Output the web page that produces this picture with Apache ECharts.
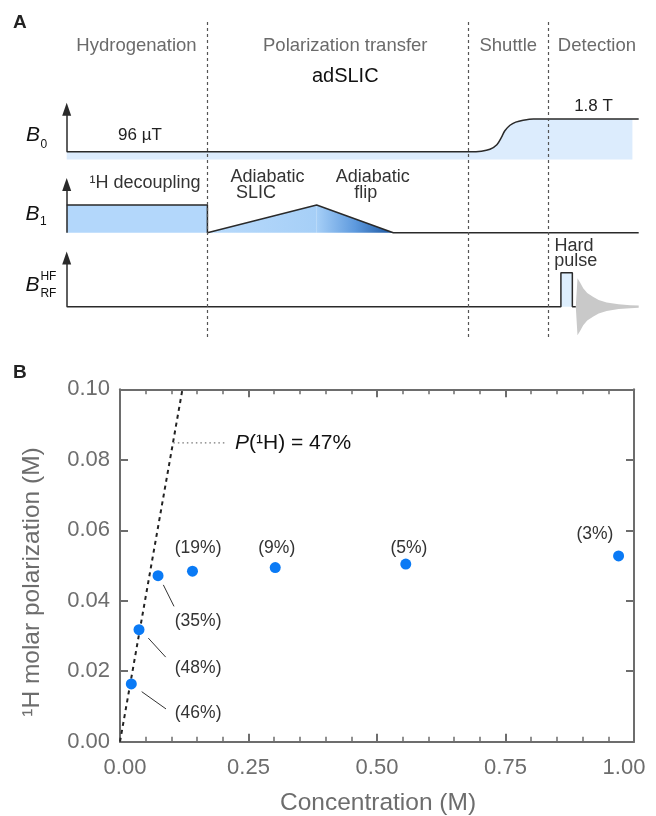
<!DOCTYPE html>
<html>
<head>
<meta charset="utf-8">
<title>adSLIC</title>
<script src="https://cdn.jsdelivr.net/npm/echarts@6/dist/echarts.min.js"></script>
<style>
  html, body { margin: 0; padding: 0; background: #fff; }
  #main { width: 656px; height: 816px; }
</style>
</head>
<body>
<div id="main"></div>
<script>
// ---- panel B data ----
var concentration = [0.022, 0.037, 0.074, 0.141, 0.302, 0.556, 0.970];
var polarization  = [0.0164, 0.0318, 0.0471, 0.0484, 0.0494, 0.0504, 0.0527];
var percentLabels = ['(46%)', '(48%)', '(35%)', '(19%)', '(9%)', '(5%)', '(3%)'];
var xTicks = [0, 0.25, 0.5, 0.75, 1.0];
var yTicks = [0, 0.02, 0.04, 0.06, 0.08, 0.10];
var fitLine = [[0, 0], [0.1215, 0.1]];
var fitText = '(\u00b9H) = 47%';

// ---- panel A (schematic): time 0..100, level 0..100 ----
var phaseNames = ['Hydrogenation', 'Polarization transfer', 'Shuttle', 'Detection'];
var phaseEdges = [24.6, 70.2, 84.1];
var b0Trace = [[0, 58.8], [70.5, 58.8], [72.5, 59.0], [74.0, 59.6], [75.2, 61.0], [76.0, 63.3],
               [76.6, 65.4], [77.5, 67.1], [78.5, 68.1], [79.8, 68.7], [81.6, 69.1], [100, 69.1]];
var b1Trace = [[0, 42.2], [24.6, 42.2], [24.6, 33.5], [43.7, 42.2], [57.1, 33.5], [100, 33.5]];
var rfTrace = [[0, 10.4], [86.4, 10.4], [86.4, 21.0], [88.4, 21.0], [88.4, 10.4], [89.0, 10.4]];
var fidEnvelope = [[89.0, 0], [89.3, 8.9], [89.8, 7.4], [90.3, 5.8], [91.0, 4.3], [92.0, 3.1],
                   [93.0, 2.1], [94.4, 1.3], [96.5, 0.75], [98.5, 0.45], [100, 0.35]];

var F = '"Liberation Sans", Arial, Helvetica, sans-serif';
var AX = '#6d6d6d';
var INK = '#2a2a2a';

// layout of texts (not data)
var phaseLabelAt = [[12.2, 91.9], [48.7, 91.9], [77.2, 91.9], [92.7, 91.9]];
var percentLabelAt = [[0.152, 0.0081], [0.152, 0.0210], [0.152, 0.0341], [0.152, 0.0549],
                      [0.305, 0.0549], [0.562, 0.0549], [0.924, 0.0590]];
var leaderLines = [
  [[0.0422, 0.0142], [0.0895, 0.0093]],
  [[0.0551, 0.0294], [0.0889, 0.0240]],
  [[0.0843, 0.0445], [0.1051, 0.0384]]
];
var fitLeader = [[0.1038, 0.0848], [0.2043, 0.0848]];
var fitTextAt = [0.2237, 0.0848];

var myChart = echarts.init(document.getElementById('main'));

function polySeries(pts, fill, xi, yi) {
  return {
    type: 'custom', xAxisIndex: xi, yAxisIndex: yi, silent: true, clip: false, z: 1,
    data: [[pts[0][0], pts[0][1]]],
    renderItem: function (params, api) {
      return {
        type: 'polygon',
        shape: { points: pts.map(function (p) { return api.coord(p); }) },
        style: { fill: fill }
      };
    }
  };
}

function textSeries(items, xi, yi) {
  return {
    type: 'custom', xAxisIndex: xi, yAxisIndex: yi, silent: true, clip: false, z: 5,
    data: items.map(function (d) { return d.at; }),
    renderItem: function (params, api) {
      var it = items[params.dataIndex];
      var p = api.coord(it.at);
      var st = {
        text: it.text, fill: it.color || '#333',
        fontSize: it.size || 18, fontFamily: F,
        fontStyle: it.italic ? 'italic' : 'normal',
        align: it.align || 'center', verticalAlign: 'middle'
      };
      if (it.rich) st.rich = it.rich;
      return { type: 'text', x: p[0], y: p[1], style: st };
    }
  };
}

function segSeries(segs, color, width, dash, xi, yi) {
  return {
    type: 'custom', xAxisIndex: xi, yAxisIndex: yi, silent: true, clip: false, z: 3,
    data: segs.map(function (s) { return s[0]; }),
    renderItem: function (params, api) {
      var s = segs[params.dataIndex];
      var a = api.coord(s[0]), b = api.coord(s[1]);
      return {
        type: 'line',
        shape: { x1: a[0], y1: a[1], x2: b[0], y2: b[1] },
        style: { stroke: color, lineWidth: width, lineDash: dash || null }
      };
    }
  };
}

// panel A fills
var b0Fill = b0Trace.slice(0, -1).concat([[98.9, 69.1], [98.9, 56.4], [0, 56.4]]);
var decoupleFill = [[0, 33.5], [0, 42.2], [24.6, 42.2], [24.6, 33.5]];
var slicFill = [[24.6, 33.5], [43.7, 42.2], [43.7, 33.5]];
var flipFill = [[43.7, 42.2], [57.1, 33.5], [43.7, 33.5]];
var pulseFill = [[86.4, 10.4], [86.4, 21.0], [88.4, 21.0], [88.4, 10.4]];
var fidFill = fidEnvelope.map(function (p) { return [p[0], 10.4 + p[1]]; })
  .concat(fidEnvelope.slice().reverse().map(function (p) { return [p[0], 10.4 - p[1]]; }));

var panelAText = phaseNames.map(function (n, i) {
  return { at: phaseLabelAt[i], text: n, size: 18.5, color: '#6b6b6b' };
}).concat([
  { at: [48.7, 82.3], text: 'adSLIC', size: 20, color: '#111' },
  { at: [12.8, 63.9], text: '96 \u00b5T', size: 17, color: '#222' },
  { at: [92.1, 72.9], text: '1.8 T', size: 17, color: '#222' },
  { at: [13.7, 49.0], text: '\u00b9H decoupling', size: 18, color: '#333' },
  { at: [35.1, 51.0], text: 'Adiabatic', size: 18, color: '#333' },
  { at: [33.1, 45.8], text: 'SLIC', size: 18, color: '#333' },
  { at: [53.5, 51.0], text: 'Adiabatic', size: 18, color: '#333' },
  { at: [52.3, 45.8], text: 'flip', size: 18, color: '#333' },
  { at: [88.7, 29.4], text: 'Hard', size: 18, color: '#333' },
  { at: [89.0, 24.8], text: 'pulse', size: 18, color: '#333' },
  { at: [-5.9, 63.9], text: 'B', size: 21, italic: true, color: '#111' },
  { at: [-4.0, 60.9], text: '0', size: 12, color: '#111' },
  { at: [-6.0, 39.3], text: 'B', size: 21, italic: true, color: '#111' },
  { at: [-4.1, 37.0], text: '1', size: 12, color: '#111' },
  { at: [-6.0, 17.2], text: 'B', size: 21, italic: true, color: '#111' },
  { at: [-3.2, 19.7], text: 'HF', size: 12, color: '#111' },
  { at: [-3.2, 14.4], text: 'RF', size: 12, color: '#111' }
]);

var panelBText = percentLabels.map(function (t, i) {
  return { at: percentLabelAt[i], text: t, size: 17.5, color: '#333' };
}).concat([{
  at: fitTextAt, text: '{i|P}{n|' + fitText + '}', align: 'left', size: 21, color: '#111',
  rich: {
    i: { fontStyle: 'italic', fontSize: 21, fontFamily: F, fill: '#111' },
    n: { fontSize: 21, fontFamily: F, fill: '#111' }
  }
}]);

function xAxisB(pos, labels) {
  return {
    type: 'value', gridIndex: 0, position: pos, min: 0, max: 1, interval: 0.25,
    axisLine: { show: true, onZero: false, lineStyle: { color: AX, width: 2 } },
    axisTick: { show: true, inside: true, length: 8, lineStyle: { color: AX, width: 2 } },
    minorTick: { show: true, splitNumber: 5, length: 5, lineStyle: { color: AX, width: 1.5 } },
    splitLine: { show: false }, minorSplitLine: { show: false },
    axisLabel: labels ? {
      show: true, margin: 15, fontSize: 22, color: AX, fontFamily: F,
      formatter: function (v) {
        var s = v.toFixed(2);
        if (v === 0) return '{l|' + s + '}';
        if (v === 1) return '{r|' + s + '}';
        return s;
      },
      rich: {
        l: { fontSize: 22, color: AX, fontFamily: F, padding: [0, 0, 0, 10] },
        r: { fontSize: 22, color: AX, fontFamily: F, padding: [0, 20, 0, 0] }
      }
    } : { show: false }
  };
}
function yAxisB(pos, labels) {
  return {
    type: 'value', gridIndex: 0, position: pos, min: 0, max: 0.1, interval: 0.02,
    axisLine: { show: true, onZero: false, lineStyle: { color: AX, width: 2 } },
    axisTick: { show: true, inside: true, length: 8, lineStyle: { color: AX, width: 2 } },
    splitLine: { show: false },
    axisLabel: labels ? {
      show: true, margin: 10, fontSize: 22, color: AX, fontFamily: F,
      formatter: function (v) { return v.toFixed(2); }
    } : { show: false }
  };
}
function hiddenAxis(gi) {
  return { type: 'value', gridIndex: gi, min: 0, max: 100, show: false };
}

var option = {
  animation: false,
  backgroundColor: '#fff',
  grid: [
    { left: 120, right: 22, top: 389.3, bottom: 74.3, containLabel: false },
    { left: 66.7, right: 17.3, top: 20, height: 320, containLabel: false }
  ],
  xAxis: [xAxisB('bottom', true), xAxisB('top', false), hiddenAxis(1)],
  yAxis: [yAxisB('left', true), yAxisB('right', false), hiddenAxis(1)],
  graphic: [
    { type: 'text', left: 13, top: 13, style: { text: 'A', fontSize: 19, fontWeight: 'bold', fontFamily: F, fill: '#222' } },
    { type: 'text', left: 13, top: 363, style: { text: 'B', fontSize: 19, fontWeight: 'bold', fontFamily: F, fill: '#222' } },
    { type: 'text', x: 32, y: 582, rotation: Math.PI / 2,
      style: { text: '\u00b9H molar polarization (M)', fontSize: 24.5, fontFamily: F, fill: AX, align: 'center', verticalAlign: 'middle' } },
    { type: 'text', x: 378, y: 803,
      style: { text: 'Concentration (M)', fontSize: 24.5, fontFamily: F, fill: AX, align: 'center', verticalAlign: 'middle' } }
  ],
  series: [
    // ---- panel A ----
    polySeries(b0Fill, '#dcecfd', 2, 2),
    polySeries(decoupleFill, '#b3d7fb', 2, 2),
    polySeries(slicFill, new echarts.graphic.LinearGradient(0, 0, 1, 0, [
      { offset: 0, color: '#b8dafb' }, { offset: 1, color: '#a6cff7' }]), 2, 2),
    polySeries(flipFill, new echarts.graphic.LinearGradient(0, 0, 1, 0, [
      { offset: 0, color: '#a6cff7' }, { offset: 0.5, color: '#5e9ade' }, { offset: 1, color: '#1a559f' }]), 2, 2),
    polySeries(pulseFill, '#ddeefd', 2, 2),
    polySeries(fidFill, '#c9c9c9', 2, 2),
    {
      type: 'line', xAxisIndex: 2, yAxisIndex: 2, data: b0Trace, symbol: 'none', smooth: 0.3, z: 3,
      lineStyle: { color: INK, width: 1.5 }, silent: true
    },
    {
      type: 'line', xAxisIndex: 2, yAxisIndex: 2, data: b1Trace, symbol: 'none', z: 3,
      lineStyle: { color: INK, width: 1.5 }, silent: true,
      markLine: {
        silent: true, symbol: ['none', 'none'], label: { show: false },
        lineStyle: { color: '#555', width: 1.2, type: [3, 3] },
        data: phaseEdges.map(function (t) { return [{ coord: [t, 0.9] }, { coord: [t, 100] }]; })
      }
    },
    {
      type: 'line', xAxisIndex: 2, yAxisIndex: 2, data: rfTrace, symbol: 'none', z: 3,
      lineStyle: { color: INK, width: 1.5 }, silent: true,
      markLine: {
        silent: true, symbol: ['none', 'triangle'], symbolSize: [9, 13], label: { show: false },
        lineStyle: { color: INK, width: 1.5, type: 'solid' },
        data: [
          [{ coord: [0, 58.8] }, { coord: [0, 72.1] }],
          [{ coord: [0, 33.5] }, { coord: [0, 48.6] }],
          [{ coord: [0, 10.4] }, { coord: [0, 25.6] }]
        ]
      }
    },
    textSeries(panelAText, 2, 2),

    // ---- panel B ----
    {
      type: 'line', xAxisIndex: 0, yAxisIndex: 0, data: fitLine, symbol: 'none', z: 2,
      lineStyle: { color: '#222', width: 2, type: [4, 4] }, silent: true
    },
    segSeries([fitLeader], '#777', 1.2, [1.5, 3], 0, 0),
    segSeries(leaderLines, '#333', 1, null, 0, 0),
    {
      type: 'scatter', xAxisIndex: 0, yAxisIndex: 0, symbolSize: 11, z: 4,
      itemStyle: { color: '#0a7af5', opacity: 1 },
      data: concentration.map(function (c, i) { return [c, polarization[i]]; })
    },
    textSeries(panelBText, 0, 0)
  ]
};

myChart.setOption(option);
</script>
</body>
</html>
